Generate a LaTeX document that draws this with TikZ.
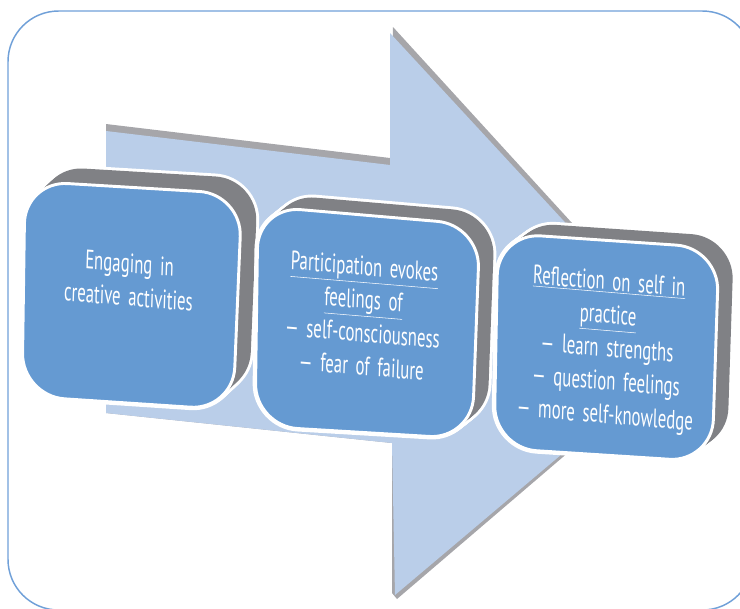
\documentclass[tikz,border=0pt]{standalone}
\usepackage{fontspec}
\setmainfont{PT Sans}[WordSpace=1.7]

\definecolor{framecol}{RGB}{112,160,216}
\definecolor{arrowblue}{RGB}{186,206,233}
\definecolor{arrowshade}{RGB}{166,166,170}
\definecolor{rimgray}{RGB}{128,129,133}
\definecolor{boxblue}{RGB}{101,154,210}

\begin{document}
\begin{tikzpicture}[x=0.75pt,y=-0.75pt,
    frame/.style={draw=framecol, line width=1.1pt, rounded corners=38pt},
    face/.style={fill=boxblue, draw=white, line width=2.2pt, rounded corners=32pt},
    rimline/.style={draw=white, line width=4.4pt, rounded corners=32pt},
    rimfill/.style={fill=rimgray, rounded corners=32pt},
    label/.style={text=white, align=center, font=\fontsize{20}{25}\selectfont, xscale=0.63, rotate=-3}]
    \useasboundingbox (0,0) rectangle (740,608);
    \draw[frame] (8,11) rectangle (753,610);

    % big arrow behind the boxes
    \fill[arrowshade] (106,124) -- (390,158) -- (393,27) -- (688,350) -- (397,599)
        -- (392,593) -- (392,443) -- (106,413) -- cycle;
    \fill[arrowblue] (106,131) -- (390,165) -- (390,33) -- (684,351) -- (395,595)
        -- (392,443) -- (106,413) -- cycle;

    % corners of the front faces
    \coordinate (a1) at (25,181);  \coordinate (b1) at (242,194);
    \coordinate (c1) at (233,410); \coordinate (d1) at (22,396);
    \coordinate (a2) at (258,206); \coordinate (b2) at (480,225);
    \coordinate (c2) at (472,439); \coordinate (d2) at (255,426);
    \coordinate (a3) at (498,233); \coordinate (b3) at (719,248);
    \coordinate (c3) at (712,462); \coordinate (d3) at (494,448);

    % grey depth of each box
    \foreach \i/\ox/\oy in {1/16/-15, 2/15/-12, 3/15/-11}{
        \foreach \s in {0,1,...,10}
            \draw[rimline] ([shift={(\s*\ox/10,\s*\oy/10)}]a\i) -- ([shift={(\s*\ox/10,\s*\oy/10)}]b\i)
                -- ([shift={(\s*\ox/10,\s*\oy/10)}]c\i) -- ([shift={(\s*\ox/10,\s*\oy/10)}]d\i) -- cycle;
        \foreach \s in {0,1,...,10}
            \fill[rimfill] ([shift={(\s*\ox/10,\s*\oy/10)}]a\i) -- ([shift={(\s*\ox/10,\s*\oy/10)}]b\i)
                -- ([shift={(\s*\ox/10,\s*\oy/10)}]c\i) -- ([shift={(\s*\ox/10,\s*\oy/10)}]d\i) -- cycle;
        \draw[face] (a\i) -- (b\i) -- (c\i) -- (d\i) -- cycle;
    }

    \node[label] (engage) at (129,280) {Engaging in\\creative activities};
    \node[label] (feel) at (363,316) {\underline{Participation evokes}\\\underline{feelings of}\\— self-consciousness\\— fear of failure};
    \node[label] (reflect) at (607,350) {\underline{Reflection on self in}\\\underline{practice}\\— learn strengths\\— question feelings\\— more self-knowledge};
\end{tikzpicture}
\end{document}
